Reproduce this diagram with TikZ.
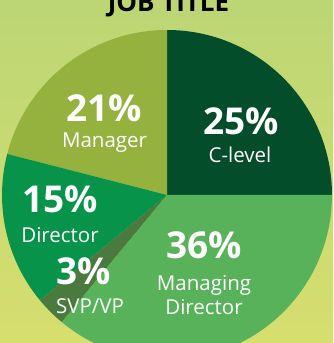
\documentclass[tikz,border=0pt]{standalone}
\usepackage{fontspec}
\setmainfont{Open Sans}
\definecolor{bgtop}{HTML}{BCD675}
\definecolor{bgbot}{HTML}{D6DE6E}
\definecolor{clevel}{HTML}{044D2A}
\definecolor{manager}{HTML}{96B23E}
\definecolor{director}{HTML}{07944A}
\definecolor{mdir}{HTML}{57B25A}
\definecolor{svp}{HTML}{4A7A3E}
\tikzset{
  pct/.style={text=white, font=\fontsize{37}{40}\selectfont\bfseries, anchor=base, inner sep=0pt},
  lbl/.style={text=white, font=\fontsize{20.5}{24}\selectfont, anchor=base, inner sep=0pt, align=center},
}
\newcommand{\pieslice}[3]{%
  \fill[#3] (ctr) -- ++(#1:165) arc[start angle=#1, end angle=#2, radius=165] -- cycle;}
\begin{document}
\begin{tikzpicture}[x=1pt,y=1pt]
\useasboundingbox (0,0) rectangle (333,343);
\shade[top color=bgtop, bottom color=bgbot] (0,0) rectangle (333,343);
\clip (0,0) rectangle (333,343);
\coordinate (ctr) at (167,148);
\pieslice{0}{90}{clevel}
\pieslice{90}{165.6}{manager}
\pieslice{165.6}{219.6}{director}
\pieslice{219.6}{230.4}{svp}
\pieslice{230.4}{360}{mdir}
\node[anchor=base, inner sep=0pt, font=\fontsize{26}{28}\selectfont\bfseries, text=black] (title) at (168.5,331) {JOB TITLE};
\node[pct] (p21) at (104,221) {21\%};
\node[lbl] (l21) at (104.5,195) {Manager};
\node[pct] (p25) at (241,208) {25\%};
\node[lbl] (l25) at (240,180) {C-level};
\node[pct] (p15) at (60,130) {15\%};
\node[lbl] (l15) at (60,100) {Director};
\node[pct] (p3) at (84,58) {3\%};
\node[lbl] (l3) at (90,30) {SVP/VP};
\node[pct] (p36) at (204,84) {36\%};
\node[lbl] (l36a) at (204,52) {Managing};
\node[lbl] (l36b) at (204,28) {Director};
\end{tikzpicture}
\end{document}
